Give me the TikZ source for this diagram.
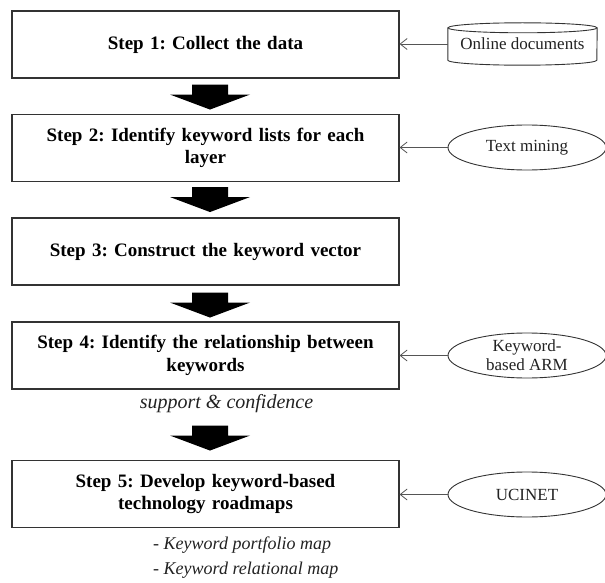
\documentclass[tikz,border=0pt]{standalone}
\usepackage{fontspec}
\setmainfont{Liberation Serif}
\usetikzlibrary{arrows.meta,shapes.geometric}
\definecolor{boxline}{HTML}{333333}
\definecolor{feedline}{HTML}{555555}
\definecolor{labeltext}{HTML}{222222}
\frenchspacing
% filled block arrow hanging below a node: #1 node, #2 gap below its south side
\newcommand\stepArrow[2]{%
  \fill[black] ([xshift=4.5pt,yshift=-#2pt]#1.south) ++(-18,0) -- ++(36,0) -- ++(0,10)
    -- ++(22,0) -- ++(-40,15) -- ++(-40,-15) -- ++(22,0) -- cycle;}
\begin{document}
\begin{tikzpicture}[x=1pt,y=-1pt,
  stepbox/.style={draw=boxline, line width=1.1pt, minimum width=387pt,
    minimum height=67pt, inner sep=0pt, align=center, text width=370pt,
    font=\fontsize{19}{22.5}\selectfont\bfseries},
  toolnode/.style={draw=boxline, line width=0.9pt, ellipse, minimum width=158pt,
    minimum height=45pt, inner sep=0pt, align=center, text=labeltext,
    font=\fontsize{17}{19}\selectfont},
  feed/.style={draw=feedline, line width=0.8pt, -{Straight Barb[length=7pt,width=11pt]}},
  note/.style={inner sep=0pt, text=labeltext, font=\fontsize{18}{20}\selectfont\itshape}]
\useasboundingbox (0,0) rectangle (605,583);

% process steps
\node[stepbox] (b1) at (205.5,44.5) {Step 1: Collect the data};
\node[stepbox] (b2) at (205.5,148) {Step 2: Identify keyword lists for each\\layer};
\node[stepbox] (b3) at (205.5,251.5) {Step 3: Construct the keyword vector};
\node[stepbox] (b4) at (205.5,355.5) {Step 4: Identify the relationship between\\keywords};
\node[stepbox] (b5) at (205.5,494) {Step 5: Develop keyword-based\\technology roadmaps};

% block arrows between the steps
\stepArrow{b1}{6}
\stepArrow{b2}{5}
\stepArrow{b3}{7}
\stepArrow{b4}{36}

% data source (cylinder)
\node[inner sep=0pt, minimum width=149pt, minimum height=42pt, text=labeltext,
  font=\fontsize{17}{19}\selectfont] (od) at (522.5,44) {Online documents};
\draw[boxline, line width=0.9pt] ([yshift=-5pt]od.north) ellipse[x radius=74.5pt, y radius=5pt];
\draw[boxline, line width=0.9pt] ([yshift=-5pt]od.north west) -- ([yshift=5pt]od.south west)
  arc[start angle=180, end angle=360, x radius=74.5pt, y radius=5pt] -- ([yshift=-5pt]od.north east);

% tools
\node[toolnode] (tm) at (527,147.5) {Text mining};
\node[toolnode] (arm) at (527,355.5) {Keyword-\\based ARM};
\node[toolnode] (uc) at (527,494.5) {UCINET};

% inputs into the steps
\draw[feed] (od.west) -- (b1.east |- od.west);
\draw[feed] (tm.west) -- (b2.east |- tm.west);
\draw[feed] (arm.west) -- (b4.east |- arm.west);
\draw[feed] (uc.west) -- (b5.east |- uc.west);

% notes
\node[note, font=\fontsize{20}{22}\selectfont\itshape] (sc) at (226.5,404) {support \& confidence};
\node[note, anchor=west] (pm) at (153,545) {- Keyword portfolio map};
\node[note, anchor=west] (rm) at (153,570) {- Keyword relational map};
\end{tikzpicture}
\end{document}
